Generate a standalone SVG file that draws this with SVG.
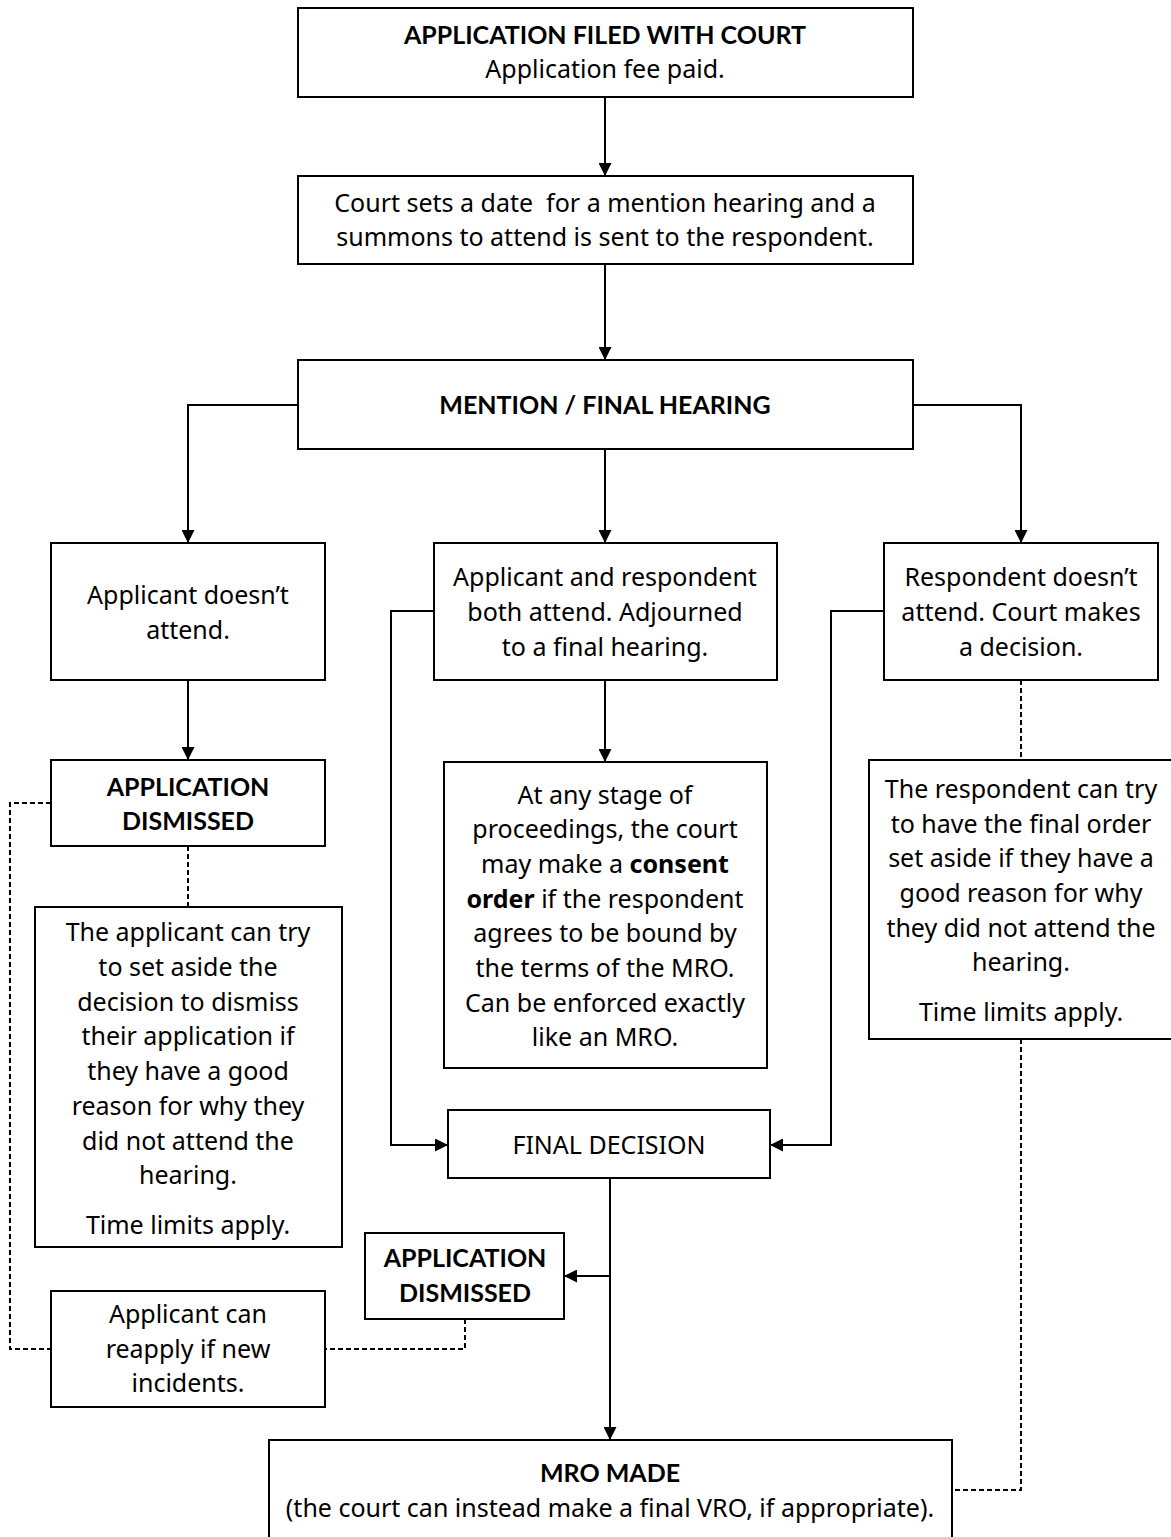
<svg xmlns="http://www.w3.org/2000/svg" width="1171" height="1537" viewBox="0 0 1171 1537">
  <style>
    .box { fill: #fff; stroke: #000; stroke-width: 2; }
    .t { font-family: "Noto Sans", "Open Sans", sans-serif; font-size: 25px; fill: #000; text-anchor: middle; white-space: pre; }
    .b { font-family: "Lato", "Noto Sans", sans-serif; font-weight: bold; font-size: 25px; fill: #000; text-anchor: middle; }
    .tb { font-weight: bold; }
    .arrow { fill: none; stroke: #000; stroke-width: 2; marker-end: url(#arr); }
    .dash { fill: none; stroke: #000; stroke-width: 2; stroke-dasharray: 5 3; }
  </style>
  <defs>
    <marker id="arr" viewBox="0 0 10 10" refX="10" refY="5" markerWidth="6.5" markerHeight="6.5" orient="auto" markerUnits="strokeWidth">
      <path d="M0,0 L10,5 L0,10 z" fill="#000"/>
    </marker>
  </defs>
  <rect width="1171" height="1537" fill="#fff"/>

  <g id="connectors">
    <path class="arrow" d="M605,97 V176"/>
    <path class="arrow" d="M605,264 V360"/>
    <path class="arrow" d="M298,405 H188 V543"/>
    <path class="arrow" d="M913,405 H1021 V543"/>
    <path class="arrow" d="M605,449 V543"/>
    <path class="arrow" d="M188,680 V760"/>
    <path class="arrow" d="M605,680 V762"/>
    <path class="arrow" d="M434,611 H391 V1145 H448"/>
    <path class="arrow" d="M884,611 H831 V1145 H770"/>
    <path class="arrow" d="M610,1178 V1440"/>
    <path class="arrow" d="M610,1276 H564"/>
    <path class="dash" d="M188,846 V907"/>
    <path class="dash" d="M1021,680 V760"/>
    <path class="dash" d="M51,803 H10 V1349 H51"/>
    <path class="dash" d="M465,1319 V1349 H325"/>
    <path class="dash" d="M1021,1039 V1490 H952"/>
  </g>

  <g id="filed">
    <rect class="box" x="298" y="8" width="615" height="89"/>
    <text class="b" x="605" y="44">APPLICATION FILED WITH COURT</text>
    <text class="t" x="605" y="78">Application fee paid.</text>
  </g>

  <g id="summons">
    <rect class="box" x="298" y="176" width="615" height="88"/>
    <text class="t" x="605" y="212" xml:space="preserve">Court sets a date  for a mention hearing and a</text>
    <text class="t" x="605" y="246">summons to attend is sent to the respondent.</text>
  </g>

  <g id="hearing">
    <rect class="box" x="298" y="360" width="615" height="89"/>
    <text class="b" x="605" y="414">MENTION / FINAL HEARING</text>
  </g>

  <g id="applicant-absent">
    <rect class="box" x="51" y="543" width="274" height="137"/>
    <text class="t" x="188" y="604">Applicant doesn’t</text>
    <text class="t" x="188" y="639">attend.</text>
  </g>

  <g id="both-attend">
    <rect class="box" x="434" y="543" width="343" height="137"/>
    <text class="t" x="605" y="586">Applicant and respondent</text>
    <text class="t" x="605" y="621">both attend. Adjourned</text>
    <text class="t" x="605" y="656">to a final hearing.</text>
  </g>

  <g id="respondent-absent">
    <rect class="box" x="884" y="543" width="274" height="137"/>
    <text class="t" x="1021" y="586">Respondent doesn’t</text>
    <text class="t" x="1021" y="621">attend. Court makes</text>
    <text class="t" x="1021" y="656">a decision.</text>
  </g>

  <g id="dismissed-1">
    <rect class="box" x="51" y="760" width="274" height="86"/>
    <text class="b" x="188" y="796">APPLICATION</text>
    <text class="b" x="188" y="830">DISMISSED</text>
  </g>

  <g id="applicant-set-aside">
    <rect class="box" x="35" y="907" width="307" height="340"/>
    <text class="t" x="188" y="941">The applicant can try</text>
    <text class="t" x="188" y="976">to set aside the</text>
    <text class="t" x="188" y="1011">decision to dismiss</text>
    <text class="t" x="188" y="1045">their application if</text>
    <text class="t" x="188" y="1080">they have a good</text>
    <text class="t" x="188" y="1115">reason for why they</text>
    <text class="t" x="188" y="1150">did not attend the</text>
    <text class="t" x="188" y="1184">hearing.</text>
    <text class="t" x="188" y="1234">Time limits apply.</text>
  </g>

  <g id="consent-order">
    <rect class="box" x="444" y="762" width="323" height="306"/>
    <text class="t" x="605" y="804">At any stage of</text>
    <text class="t" x="605" y="838">proceedings, the court</text>
    <text class="t" x="605" y="873">may make a <tspan class="tb">consent</tspan></text>
    <text class="t" x="605" y="908"><tspan class="tb">order</tspan> if the respondent</text>
    <text class="t" x="605" y="942">agrees to be bound by</text>
    <text class="t" x="605" y="977">the terms of the MRO.</text>
    <text class="t" x="605" y="1012">Can be enforced exactly</text>
    <text class="t" x="605" y="1046">like an MRO.</text>
  </g>

  <g id="respondent-set-aside">
    <rect class="box" x="869" y="760" width="304" height="279"/>
    <text class="t" x="1021" y="798">The respondent can try</text>
    <text class="t" x="1021" y="833">to have the final order</text>
    <text class="t" x="1021" y="867">set aside if they have a</text>
    <text class="t" x="1021" y="902">good reason for why</text>
    <text class="t" x="1021" y="937">they did not attend the</text>
    <text class="t" x="1021" y="971">hearing.</text>
    <text class="t" x="1021" y="1021">Time limits apply.</text>
  </g>

  <g id="final-decision">
    <rect class="box" x="448" y="1110" width="322" height="68"/>
    <text class="t" x="609" y="1154">FINAL DECISION</text>
  </g>

  <g id="dismissed-2">
    <rect class="box" x="365" y="1233" width="199" height="86"/>
    <text class="b" x="465" y="1267">APPLICATION</text>
    <text class="b" x="465" y="1302">DISMISSED</text>
  </g>

  <g id="reapply">
    <rect class="box" x="51" y="1291" width="274" height="116"/>
    <text class="t" x="188" y="1323">Applicant can</text>
    <text class="t" x="188" y="1358">reapply if new</text>
    <text class="t" x="188" y="1392">incidents.</text>
  </g>

  <g id="mro-made">
    <rect class="box" x="269" y="1440" width="683" height="110"/>
    <text class="b" x="610" y="1482">MRO MADE</text>
    <text class="t" x="610" y="1517">(the court can instead make a final VRO, if appropriate).</text>
  </g>
</svg>
